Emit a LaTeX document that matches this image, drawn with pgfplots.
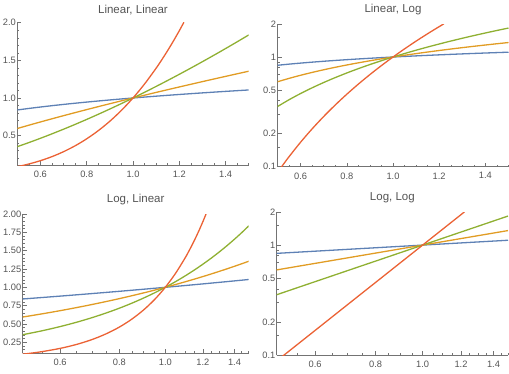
\documentclass[border=0pt]{standalone}
\usepackage{pgfplots}
\usepackage{pgfplotstable}
\pgfplotsset{compat=1.18}
\usepackage{fontspec}
\setmainfont{Liberation Sans}
\definecolor{mblue}{rgb}{0.368417,0.506779,0.709798}
\definecolor{morange}{rgb}{0.880722,0.611041,0.142051}
\definecolor{mgreen}{rgb}{0.560181,0.691569,0.194885}
\definecolor{mred}{rgb}{0.922526,0.385626,0.209179}
\definecolor{axgray}{gray}{0.45}
\definecolor{txgray}{gray}{0.33}

\pgfplotstableread{
x     a      b      c
0.50  0.8409 0.5946 0.35355
0.55  0.8612 0.6387 0.40789
0.60  0.8801 0.6817 0.46476
0.65  0.8979 0.7239 0.52405
0.70  0.9147 0.7653 0.58566
0.75  0.9306 0.8059 0.64952
0.80  0.9457 0.8459 0.71554
0.85  0.9602 0.8852 0.78366
0.90  0.9740 0.9240 0.85381
0.95  0.9873 0.9622 0.92595
1.00  1.0000 1.0000 1.00000
1.05  1.0123 1.0372 1.07594
1.10  1.0241 1.0741 1.15369
1.15  1.0356 1.1105 1.23324
1.20  1.0466 1.1465 1.31454
1.25  1.0574 1.1821 1.39754
1.30  1.0678 1.2175 1.48223
1.35  1.0779 1.2524 1.56857
1.40  1.0878 1.2870 1.65651
1.45  1.0973 1.3214 1.74603
1.50  1.1067 1.3554 1.83711
}\curves

\pgfplotstableread{
x     d
0.50  0.08839
0.52  0.10140
0.55  0.12339
0.60  0.16731
0.65  0.22141
0.70  0.28697
0.75  0.36536
0.80  0.45795
0.85  0.56619
0.90  0.69159
0.95  0.83567
1.00  1.00000
1.05  1.18622
1.10  1.39596
1.125 1.51022
1.15  1.63096
1.175 1.75838
1.20  1.89294
1.22  2.00567
}\redcurve

\pgfplotsset{
  mstyle/.style={
    scale only axis,
    axis lines=left,
    axis line style={-, draw=axgray, line width=0.6pt},
    tick align=inside,
    major tick length=4pt,
    minor tick length=2pt,
    tick style={axgray, line width=0.5pt},
    ticklabel style={font=\fontsize{9.3}{10}\selectfont, text=txgray},
    yticklabel style={inner sep=1.2pt},
    xticklabel style={yshift=-2.3pt},
    /pgf/number format/assume math mode=true,
    every axis title/.style={font=\fontsize{11.5}{13}\selectfont, text=txgray, at={(0.5,1)}, anchor=center, yshift=14.5pt},
    xmin=0.5, xmax=1.5,
    clip=true,
    every axis plot/.append style={line width=1.3pt, no markers, smooth},
  },
}

\begin{document}
\begin{tikzpicture}
\useasboundingbox (0,0) rectangle (509pt,373pt);

% Linear, Linear
\begin{axis}[mstyle, at={(17.3pt,208pt)}, anchor=south west,
  width=231.4pt, height=142.3pt,
  xtick={0.6,0.8,1.0,1.2,1.4}, xticklabels={0.6,0.8,1.0,1.2,1.4},
  minor xtick={0.5,0.55,0.65,0.7,0.75,0.85,0.9,0.95,1.05,1.1,1.15,1.25,1.3,1.35,1.45,1.5},
  ymin=0.11, ymax=2,
  ytick={0.5,1.0,1.5,2.0}, yticklabels={0.5,1.0,1.5,2.0},
  minor ytick={0.2,0.3,0.4,0.6,0.7,0.8,0.9,1.1,1.2,1.3,1.4,1.6,1.7,1.8,1.9},
  title={Linear, Linear}, title style={yshift=-1.5pt}]
\addplot[mblue] table[x=x,y=a]{\curves};
\addplot[morange] table[x=x,y=b]{\curves};
\addplot[mgreen] table[x=x,y=c]{\curves};
\addplot[mred] table[x=x,y=d]{\redcurve};
\end{axis}

% Linear, Log
\begin{axis}[mstyle, ymode=log, at={(277.5pt,206.3pt)}, anchor=south west,
  width=231pt, height=142.7pt,
  xtick={0.6,0.8,1.0,1.2,1.4}, xticklabels={0.6,0.8,1.0,1.2,1.4},
  minor xtick={0.5,0.55,0.65,0.7,0.75,0.85,0.9,0.95,1.05,1.1,1.15,1.25,1.3,1.35,1.45,1.5},
  ymin=0.1, ymax=2,
  ytick={0.1,0.2,0.5,1,2}, yticklabels={0.1,0.2,0.5,1,2},
  minor ytick={0.15,0.3,0.4,0.6,0.7,0.8,0.9,1.5},
  title={Linear, Log}]
\addplot[mblue] table[x=x,y=a]{\curves};
\addplot[morange] table[x=x,y=b]{\curves};
\addplot[mgreen] table[x=x,y=c]{\curves};
\addplot[mred] table[x=x,y=d]{\redcurve};
\end{axis}

% Log, Linear
\begin{axis}[mstyle, xmode=log, at={(22.7pt,19.7pt)}, anchor=south west,
  width=226pt, height=139.3pt,
  xtick={0.6,0.8,1.0,1.2,1.4}, xticklabels={0.6,0.8,1.0,1.2,1.4},
  minor xtick={0.5,0.55,0.65,0.7,0.75,0.85,0.9,0.95,1.05,1.1,1.15,1.25,1.3,1.35,1.45,1.5},
  ymin=0.1, ymax=2,
  ytick={0.25,0.5,0.75,1.0,1.25,1.5,1.75,2.0},
  yticklabels={0.25,0.50,0.75,1.00,1.25,1.50,1.75,2.00},
  minor ytick={0.1,0.15,0.2,0.3,0.35,0.4,0.45,0.55,0.6,0.65,0.7,0.8,0.85,0.9,0.95,1.05,1.1,1.15,1.2,1.3,1.35,1.4,1.45,1.55,1.6,1.65,1.7,1.8,1.85,1.9,1.95},
  title={Log, Linear}]
\addplot[mblue] table[x=x,y=a]{\curves};
\addplot[morange] table[x=x,y=b]{\curves};
\addplot[mgreen] table[x=x,y=c]{\curves};
\addplot[mred] table[x=x,y=d]{\redcurve};
\end{axis}

% Log, Log
\begin{axis}[mstyle, xmode=log, ymode=log, at={(276.7pt,18pt)}, anchor=south west,
  width=231.3pt, height=143pt,
  xtick={0.6,0.8,1.0,1.2,1.4}, xticklabels={0.6,0.8,1.0,1.2,1.4},
  minor xtick={0.5,0.55,0.65,0.7,0.75,0.85,0.9,0.95,1.05,1.1,1.15,1.25,1.3,1.35,1.45,1.5},
  ymin=0.1, ymax=2,
  ytick={0.1,0.2,0.5,1,2}, yticklabels={0.1,0.2,0.5,1,2},
  minor ytick={0.15,0.3,0.4,0.6,0.7,0.8,0.9,1.5},
  title={Log, Log}]
\addplot[mblue] table[x=x,y=a]{\curves};
\addplot[morange] table[x=x,y=b]{\curves};
\addplot[mgreen] table[x=x,y=c]{\curves};
\addplot[mred] table[x=x,y=d]{\redcurve};
\end{axis}
\end{tikzpicture}
\end{document}
